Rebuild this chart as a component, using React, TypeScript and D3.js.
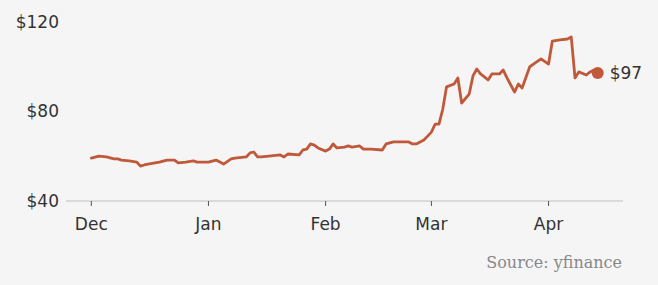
import React from "react";
import * as d3 from "d3";

const dates: string[] = [
  "2022-12-01","2022-12-03","2022-12-05","2022-12-07","2022-12-08","2022-12-09","2022-12-11","2022-12-13","2022-12-14","2022-12-15",
  "2022-12-16","2022-12-19","2022-12-21","2022-12-23","2022-12-24","2022-12-26","2022-12-28","2022-12-29","2023-01-01","2023-01-03",
  "2023-01-04","2023-01-05","2023-01-07","2023-01-08","2023-01-11","2023-01-12","2023-01-13","2023-01-14","2023-01-15","2023-01-17",
  "2023-01-20","2023-01-21","2023-01-22","2023-01-25","2023-01-26","2023-01-27","2023-01-28","2023-01-29","2023-01-30","2023-02-01",
  "2023-02-02","2023-02-03","2023-02-04","2023-02-06","2023-02-07","2023-02-08","2023-02-10","2023-02-11","2023-02-13","2023-02-16",
  "2023-02-17","2023-02-19","2023-02-21","2023-02-23","2023-02-24","2023-02-25","2023-02-27","2023-02-28","2023-03-01","2023-03-02",
  "2023-03-03","2023-03-04","2023-03-05","2023-03-07","2023-03-08","2023-03-09","2023-03-11","2023-03-12","2023-03-13","2023-03-14",
  "2023-03-16","2023-03-17","2023-03-19","2023-03-20","2023-03-21","2023-03-23","2023-03-24","2023-03-25","2023-03-27","2023-03-28",
  "2023-03-30","2023-04-01","2023-04-02","2023-04-04","2023-04-06","2023-04-07","2023-04-08","2023-04-09","2023-04-11","2023-04-12",
  "2023-04-13","2023-04-14",
];

const prices: number[] = [
  59.2,60.1,59.7,58.8,58.8,58.3,57.9,57.4,55.6,56.1,
  56.5,57.4,58.3,58.3,57.0,57.4,57.9,57.4,57.4,58.3,
  57.4,56.5,58.8,59.2,59.7,61.5,61.9,59.7,59.7,60.1,
  60.6,59.7,61.0,60.6,62.8,63.2,65.5,65.0,63.7,62.3,
  63.2,65.5,63.7,64.1,64.6,64.1,64.6,63.2,63.2,62.8,
  65.5,66.4,66.4,66.4,65.5,65.5,67.3,69.0,70.8,74.4,
  74.4,81.0,91.0,92.3,95.0,83.8,87.8,95.9,99.0,96.8,
  94.1,96.8,96.8,98.5,95.0,88.7,92.3,90.5,99.9,101.2,
  103.5,101.2,111.5,112.0,112.4,113.3,95.0,97.7,96.3,97.7,
  98.5,97.2,
];

const yTicks: number[] = [40, 80, 120];
const xTickDates: string[] = ["2022-12-01", "2023-01-01", "2023-02-01", "2023-03-01", "2023-04-01"];
const xTickLabels: string[] = ["Dec", "Jan", "Feb", "Mar", "Apr"];
const sourceText = "Source: yfinance";

const W = 658;
const H = 285;
const LINE = "#c0583a";

export default function App() {
  const parse = d3.utcParse("%Y-%m-%d");
  const data = dates.map((d, i) => ({ date: parse(d) as Date, value: prices[i] }));
  const [d0, d1] = d3.extent(data, (d) => d.date) as [Date, Date];
  const span = d1.getTime() - d0.getTime();
  const pad = span * 0.05;
  const x = d3
    .scaleUtc()
    .domain([new Date(d0.getTime() - pad), new Date(d1.getTime() + pad)])
    .range([66, 623]);
  const y = d3.scaleLinear().domain([40, 120]).range([201, 22]);
  const line = d3
    .line<{ date: Date; value: number }>()
    .x((d) => x(d.date))
    .y((d) => y(d.value));
  const last = data[data.length - 1];
  const font = "'DejaVu Sans', Verdana, sans-serif";

  return (
    <div style={{ position: "fixed", left: 0, top: 0 }}>
      <svg width={W} height={H} style={{ display: "block", background: "#f5f5f5" }}>
        <rect x={0} y={0} width={W} height={H} fill="#f5f5f5" />
        {yTicks.map((t) => (
          <text
            key={t}
            x={59}
            y={y(t)}
            dy="0.35em"
            textAnchor="end"
            fontFamily={font}
            fontSize={17}
            fill="#333"
          >
            {"$" + t}
          </text>
        ))}
        <line x1={66} x2={623} y1={y(40)} y2={y(40)} stroke="#d0d0d0" strokeWidth={1.5} />
        {xTickDates.map((s, i) => {
          const xp = x(parse(s) as Date);
          return (
            <g key={s}>
              <line x1={xp} x2={xp} y1={y(40)} y2={y(40) + 5} stroke="#555" strokeWidth={1} />
              <text
                x={xp}
                y={230}
                textAnchor="middle"
                fontFamily={font}
                fontSize={17}
                fill="#333"
              >
                {xTickLabels[i]}
              </text>
            </g>
          );
        })}
        <path d={line(data) || ""} fill="none" stroke={LINE} strokeWidth={2.8} strokeLinejoin="round" strokeLinecap="round" />
        <circle cx={x(last.date)} cy={y(last.value)} r={6} fill={LINE} />
        <text
          x={x(last.date) + 12}
          y={y(last.value)}
          dy="0.35em"
          fontFamily={font}
          fontSize={17}
          fill="#333"
        >
          {"$" + Math.round(last.value)}
        </text>
        <text
          x={622}
          y={268}
          textAnchor="end"
          fontFamily="'DejaVu Serif', serif"
          fontSize={16}
          fill="#888"
        >
          {sourceText}
        </text>
      </svg>
    </div>
  );
}
